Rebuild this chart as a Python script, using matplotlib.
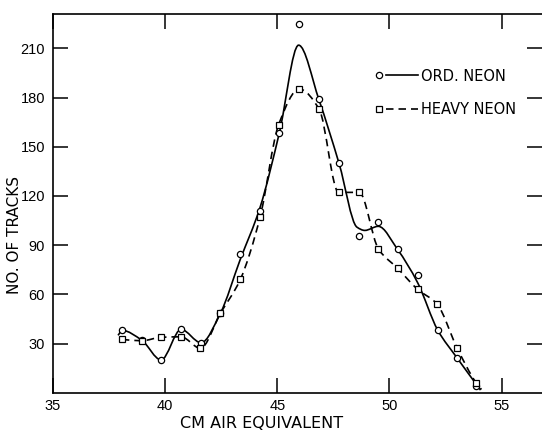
import numpy as np
import matplotlib
matplotlib.use("Agg")
import matplotlib.pyplot as plt
from matplotlib.path import Path
from matplotlib.patches import PathPatch
from matplotlib.lines import Line2D
from matplotlib.legend_handler import HandlerBase

plt.rcParams["font.family"] = ["DejaVu Sans"]
TICK_FONT = ["Liberation Sans", "DejaVu Sans"]

# measured points (cm air equivalent, no. of tracks)
ord_x = [38.08, 38.96, 39.82, 40.71, 41.60, 42.46, 43.34, 44.23, 45.09, 45.95,
         46.85, 47.76, 48.65, 49.47, 50.36, 51.26, 52.15, 53.01, 53.86]
ord_y = [38.0, 32.0, 20.0, 38.6, 30.5, 48.4, 84.4, 111.0, 158.5, 225.0,
         179.0, 140.0, 95.7, 104.0, 87.4, 72.0, 38.2, 21.3, 4.0]

heavy_x = [38.07, 38.96, 39.82, 40.71, 41.57, 42.46, 43.35, 44.23, 45.06, 45.98,
           46.87, 47.73, 48.65, 49.51, 50.36, 51.26, 52.12, 53.01, 53.86]
heavy_y = [32.5, 31.7, 33.8, 34.1, 27.1, 48.4, 69.1, 107.0, 163.6, 185.2,
           172.8, 122.2, 122.2, 87.6, 75.9, 63.0, 54.1, 27.4, 6.1]

# hand drawn curves, knots
ord_curve_x = [37.90, 38.08, 38.96, 39.82, 40.71, 41.60, 42.46, 43.34, 44.23, 45.09,
               45.95, 46.85, 47.76, 48.55, 48.90, 49.50, 50.36, 51.26, 52.15, 53.01, 54.06]
ord_curve_y = [35.0, 38.0, 32.0, 20.0, 38.6, 30.5, 48.4, 81.0, 113.0, 158.5,
               212.0, 179.0, 139.5, 101.0, 99.0, 101.5, 87.4, 67.0, 38.2, 21.3, 1.6]

heavy_curve_x = heavy_x + [54.10]
heavy_curve_y = heavy_y + [2.0]

x_ticks = [35, 40, 45, 50, 55]
y_ticks = [30, 60, 90, 120, 150, 180, 210]


def smooth_path(xs, ys):
    # monotone cubic through the knots, drawn as bezier segments
    x = np.asarray(xs, float)
    y = np.asarray(ys, float)
    h = np.diff(x)
    d = np.diff(y) / h
    m = np.zeros_like(x)
    m[0], m[-1] = d[0], d[-1]
    for k in range(1, len(x) - 1):
        if d[k - 1] * d[k] > 0:
            w1 = 2 * h[k] + h[k - 1]
            w2 = h[k] + 2 * h[k - 1]
            m[k] = (w1 + w2) / (w1 / d[k - 1] + w2 / d[k])
    verts = [(x[0], y[0])]
    codes = [Path.MOVETO]
    for k in range(len(x) - 1):
        t = h[k] / 3
        verts += [(x[k] + t, y[k] + m[k] * t),
                  (x[k + 1] - t, y[k + 1] - m[k + 1] * t),
                  (x[k + 1], y[k + 1])]
        codes += [Path.CURVE4] * 3
    return Path(verts, codes)


class MarkerThenLine(HandlerBase):
    def create_artists(self, legend, orig, xdescent, ydescent, width, height, fontsize, trans):
        y = (height - ydescent) / 2
        x0 = -xdescent
        line = Line2D([x0 + 0.22 * width, x0 + width], [y, y])
        line.update_from(orig)
        line.set_marker("none")
        line.set_transform(trans)
        mark = Line2D([x0 + 0.06 * width], [y])
        mark.update_from(orig)
        mark.set_linestyle("none")
        mark.set_transform(trans)
        return [line, mark]


DASH = (0, (4.5, 3))
LW = 1.2

fig = plt.figure(figsize=(5.42, 4.30), dpi=100)
ax = fig.add_axes([0.0978, 0.0867, 0.9022, 0.8807])

ax.add_patch(PathPatch(smooth_path(ord_curve_x, ord_curve_y), fill=False,
                       edgecolor="black", linewidth=LW, zorder=2))
ax.add_patch(PathPatch(smooth_path(heavy_curve_x, heavy_curve_y), fill=False,
                       edgecolor="black", linewidth=LW, linestyle=DASH, zorder=2))

ax.plot(ord_x, ord_y, linestyle="none", marker="o", markersize=4.5,
        markerfacecolor="white", markeredgecolor="black", markeredgewidth=0.9, zorder=3)
ax.plot(heavy_x, heavy_y, linestyle="none", marker="s", markersize=5,
        markerfacecolor="white", markeredgecolor="black", markeredgewidth=0.9, zorder=3)

ax.set_xlim(35, 56.8)
ax.set_ylim(0, 231)

ax.set_xticks(x_ticks, labels=[str(v) for v in x_ticks], fontfamily=TICK_FONT, fontsize=10.5)
ax.set_yticks(y_ticks, labels=[str(v) for v in y_ticks], fontfamily=TICK_FONT, fontsize=10.5)
ax.tick_params(direction="in", length=10.5, width=1.1, top=True, right=True, colors="black")
ax.tick_params(axis="x", pad=4.2)
ax.tick_params(axis="y", pad=5.8)

for side in ["left", "bottom", "top"]:
    ax.spines[side].set_linewidth(1.2)
ax.spines["right"].set_visible(False)

ax.set_xlabel("CM AIR EQUIVALENT", fontsize=11.5)
ax.xaxis.set_label_coords(0.427, -0.062)
ax.set_ylabel("NO. OF TRACKS", fontsize=11)
ax.yaxis.set_label_coords(-0.063, 0.416)

proxy_ord = Line2D([], [], color="black", linewidth=LW, marker="o", markersize=4.5,
                   markerfacecolor="white", markeredgecolor="black", markeredgewidth=0.9)
proxy_heavy = Line2D([], [], color="black", linewidth=LW, linestyle=DASH, marker="s",
                     markersize=5, markerfacecolor="white", markeredgecolor="black",
                     markeredgewidth=0.9)
ax.legend([proxy_ord, proxy_heavy], ["ORD. NEON", "HEAVY NEON"],
          handler_map={Line2D: MarkerThenLine()},
          loc="upper left", bbox_to_anchor=(0.662, 0.856), frameon=False,
          borderaxespad=0, borderpad=0, handlelength=2.8, handletextpad=0.25,
          labelspacing=1.25, fontsize=10.5)

fig.savefig("out.png", dpi=100)
